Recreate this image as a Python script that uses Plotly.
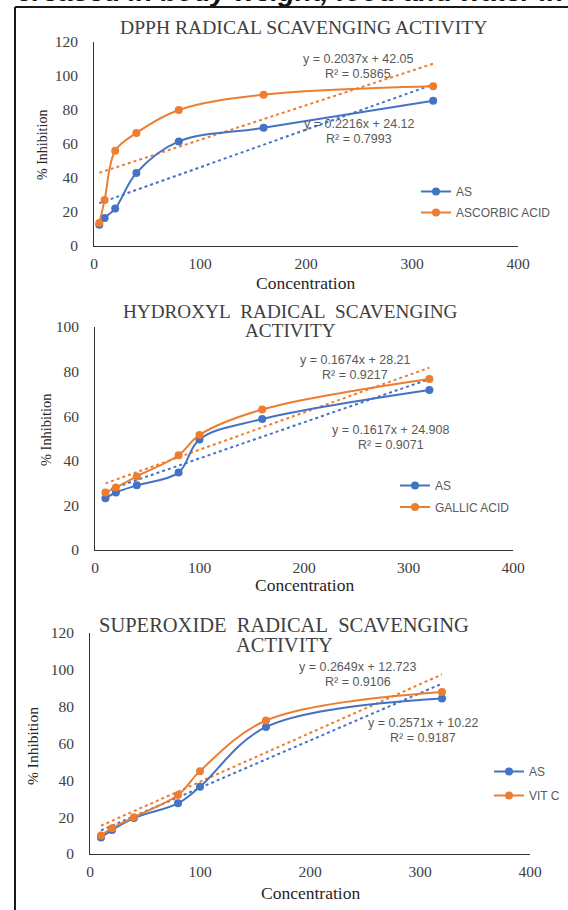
import numpy as np
import plotly.graph_objects as go

W, H = 568, 910

# ---------------- data ----------------
dpph_conc = [5, 10, 20, 40, 80, 160, 320]
dpph_as = [12.5, 16.5, 22, 43, 61.5, 69.5, 85.5]
dpph_asc = [13.5, 27, 56, 66.5, 80, 89, 94]
dpph_fit_as = (0.2216, 24.12, 0.7993)
dpph_fit_asc = (0.2037, 42.05, 0.5865)

hyd_conc = [10, 20, 40, 80, 100, 160, 320]
hyd_as = [23.2, 25.8, 29, 34.7, 49.6, 58.7, 71.7]
hyd_ga = [25.8, 28, 33, 42.5, 51.6, 63, 76.7]
hyd_fit_as = (0.1617, 24.908, 0.9071)
hyd_fit_ga = (0.1674, 28.21, 0.9217)

sup_conc = [10, 20, 40, 80, 100, 160, 320]
sup_as = [9, 13, 19.5, 27.5, 36.5, 69, 84.5]
sup_vitc = [10, 14, 20, 32, 45, 72.5, 88]
sup_fit_as = (0.2571, 10.22, 0.9187)
sup_fit_vitc = (0.2649, 12.723, 0.9106)

x_ticks = [0, 100, 200, 300, 400]
running_text = "creased in body weight, food and water in"

BLUE = "#4472C4"
ORANGE = "#ED7D31"
SERIF = "Liberation Serif"
SANS = "Liberation Sans"
GRAY = "#595959"
DARK = "#404040"


def px(x):
    return x / W


def py(y):
    return 1 - y / H


fig = go.Figure()

charts = [
    dict(conc=dpph_conc, s1=dpph_as, s2=dpph_asc, f1=dpph_fit_as, f2=dpph_fit_asc,
         n1="AS", n2="ASCORBIC ACID", xd=(94, 518), yd=(246, 42), yr=120,
         title=["DPPH RADICAL SCAVENGING ACTIVITY"], tx=303, ty=[27], tsize=19.6,
         yt=(42, 145, 14), eq2=(358, 59), eq1=(359, 124), leg=(416, 177), gap=2, xt=283),
    dict(conc=hyd_conc, s1=hyd_as, s2=hyd_ga, f1=hyd_fit_as, f2=hyd_fit_ga,
         n1="AS", n2="GALLIC ACID", xd=(95, 513), yd=(550, 327), yr=100,
         title=["HYDROXYL\u00a0 RADICAL\u00a0 SCAVENGING", "ACTIVITY"], tx=290, ty=[311, 330],
         tsize=19.2, yt=(46, 430, 14.4),
         eq2=(355, 360), eq1=(391, 430), leg=(395, 471), gap=2.5, xt=585),
    dict(conc=sup_conc, s1=sup_as, s2=sup_vitc, f1=sup_fit_as, f2=sup_fit_vitc,
         n1="AS", n2="VIT C", xd=(90, 530), yd=(854, 633), yr=120,
         title=["SUPEROXIDE\u00a0 RADICAL\u00a0 SCAVENGING", "ACTIVITY"], tx=284, ty=[625, 645],
         tsize=20.5, yt=(32, 746, 15.5),
         eq2=(358, 667), eq1=(423, 723), leg=(489, 757), gap=5, xt=893),
]

annotations = []


def ann(text, x, y, size, family, color, angle=0):
    annotations.append(dict(text=text, x=px(x), y=py(y), xref="paper", yref="paper",
                            showarrow=False, xanchor="center", yanchor="middle",
                            textangle=angle, font=dict(family=family, size=size, color=color)))


for i, c in enumerate(charts, start=1):
    xa = "x" if i == 1 else f"x{i}"
    ya = "y" if i == 1 else f"y{i}"
    lg = "legend" if i == 1 else f"legend{i}"
    conc = np.array(c["conc"], dtype=float)
    xfit = np.array([conc.min(), conc.max()])
    # trendlines (Excel linear fits)
    for (m, b, r2), col in ((c["f1"], BLUE), (c["f2"], ORANGE)):
        fig.add_trace(go.Scatter(x=xfit, y=m * xfit + b, mode="lines",
                                 line=dict(color=col, width=2, dash="dot"),
                                 xaxis=xa, yaxis=ya, showlegend=False, hoverinfo="skip"))
    for k, (name, vals, col) in enumerate(((c["n1"], c["s1"], BLUE), (c["n2"], c["s2"], ORANGE))):
        fig.add_trace(go.Scatter(x=c["conc"], y=vals, mode="lines+markers", name=name,
                                 line=dict(color=col, width=2, shape="spline"),
                                 marker=dict(color=col, size=8),
                                 legendgroup=f"g{i}{k}",
                                 xaxis=xa, yaxis=ya, legend=lg))
    axis_common = dict(showline=True, linecolor="#333333", linewidth=1, showgrid=False,
                       zeroline=False, ticks="",
                       tickfont=dict(family=SERIF, size=15.5, color=DARK))
    fig.update_layout(**{
        ("xaxis" if i == 1 else f"xaxis{i}"): dict(
            domain=[px(c["xd"][0]), px(c["xd"][1])], range=[0, 400],
            tickvals=x_ticks, anchor=ya, ticklabelstandoff=3, **axis_common),
        ("yaxis" if i == 1 else f"yaxis{i}"): dict(
            domain=[py(c["yd"][0]), py(c["yd"][1])], range=[0, c["yr"]], dtick=20,
            anchor=xa, ticklabelstandoff=12, **axis_common),
        lg: dict(x=px(c["leg"][0]), y=py(c["leg"][1]), xanchor="left", yanchor="top",
                 bgcolor="rgba(0,0,0,0)", itemwidth=30, tracegroupgap=c["gap"],
                 traceorder="grouped",
                 font=dict(family=SANS, size=12, color=GRAY)),
    })
    for line, yy in zip(c["title"], c["ty"]):
        ann(line, c["tx"], yy, c["tsize"], SERIF, DARK)
    ann("% Inhibition", c["yt"][0], c["yt"][1], c["yt"][2], SERIF, "#262626", angle=-90)
    ann("Concentration", (c["xd"][0] + c["xd"][1]) / 2, c["xt"], 17.5, SERIF, "#262626")
    for (m, b, r2), pos in ((c["f2"], c["eq2"]), (c["f1"], c["eq1"])):
        ann(f"y = {m}x + {b}", pos[0], pos[1], 12.5, SANS, GRAY)
        ann(f"R² = {r2}", pos[0], pos[1] + 15, 12.5, SANS, GRAY)

# cropped running text of the page above the figure (clipped to a 7px strip)
fig.add_trace(go.Scatter(x=[17], y=[-5.5], mode="text", text=[running_text],
                         textposition="middle right", cliponaxis=True,
                         textfont=dict(family=SANS, size=27.5, color="#111111",
                                       weight="bold", style="italic"),
                         xaxis="x4", yaxis="y4", showlegend=False, hoverinfo="skip"))
fig.update_layout(
    xaxis4=dict(domain=[0, 1], range=[0, W], visible=False, anchor="y4", fixedrange=True),
    yaxis4=dict(domain=[py(7), 1], range=[7, 0], visible=False, anchor="x4", fixedrange=True),
)

shapes = [
    dict(type="line", xref="paper", yref="paper", x0=px(15), x1=1.0, y0=py(7), y1=py(7),
         line=dict(color="#1a1a1a", width=2)),
    dict(type="line", xref="paper", yref="paper", x0=px(15), x1=px(15), y0=py(7), y1=0,
         line=dict(color="#1a1a1a", width=2)),
]

fig.update_layout(width=W, height=H,
                  margin=dict(l=0, r=0, t=0, b=0, pad=0, autoexpand=False),
                  paper_bgcolor="white", plot_bgcolor="white",
                  annotations=annotations, shapes=shapes, hovermode=False)

fig.write_html("out.html", config={"displayModeBar": False, "responsive": False},
               post_script="document.body.style.margin='0';document.body.style.overflow='hidden';")
